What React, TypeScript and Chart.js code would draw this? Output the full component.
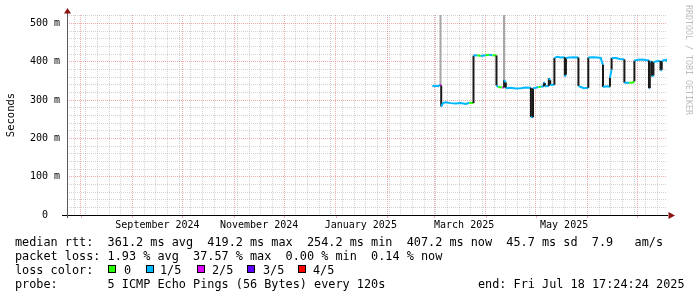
import React, { useEffect, useRef } from "react";
import { Chart, registerables } from "chart.js";

Chart.register(...registerables);

// ---------- data ----------
const START = "2024-07-23T17:24:24";
const END = "2025-07-18T17:24:24";

const medianTimes = [
  "2025-02-27T22:00", "2025-03-01T12:00", "2025-03-03T12:00", "2025-03-04T12:00", "2025-03-05T06:00",
  "2025-03-05T06:00", "2025-03-06T06:00", "2025-03-08T00:00", "2025-03-11T00:00", "2025-03-14T00:00",
  "2025-03-17T00:00", "2025-03-20T00:00", "2025-03-22T00:00", "2025-03-24T15:00", "2025-03-24T15:00",
  "2025-03-27T00:00", "2025-03-29T00:00", "2025-04-01T00:00", "2025-04-03T00:00", "2025-04-05T00:00",
  "2025-04-07T10:00", "2025-04-07T10:00", "2025-04-08T12:00", "2025-04-11T00:00", "2025-04-12T00:00",
  "2025-04-12T00:00", "2025-04-13T00:00", "2025-04-13T00:00", "2025-04-16T00:00", "2025-04-19T00:00",
  "2025-04-22T00:00", "2025-04-25T00:00", "2025-04-28T02:00", "2025-04-28T02:00", "2025-04-29T08:00",
  "2025-04-29T08:00", "2025-05-01T00:00", "2025-05-02T12:00", "2025-05-04T00:00", "2025-05-05T20:00",
  "2025-05-05T20:00", "2025-05-06T12:00", "2025-05-06T12:00", "2025-05-08T20:00", "2025-05-08T20:00",
  "2025-05-09T16:00", "2025-05-09T16:00", "2025-05-12T04:00", "2025-05-12T04:00", "2025-05-14T00:00",
  "2025-05-16T00:00", "2025-05-18T10:00", "2025-05-18T10:00", "2025-05-19T02:00", "2025-05-19T02:00",
  "2025-05-21T00:00", "2025-05-24T00:00", "2025-05-26T14:00", "2025-05-26T14:00", "2025-05-28T00:00",
  "2025-05-30T00:00", "2025-06-01T12:00", "2025-06-01T12:00", "2025-06-04T00:00", "2025-06-07T00:00",
  "2025-06-09T00:00", "2025-06-09T18:00", "2025-06-10T08:00", "2025-06-10T08:00", "2025-06-12T12:00",
  "2025-06-14T12:00", "2025-06-14T12:00", "2025-06-15T12:00", "2025-06-15T12:00", "2025-06-18T00:00",
  "2025-06-20T12:00", "2025-06-23T04:00", "2025-06-23T04:00", "2025-06-26T00:00", "2025-06-28T06:00",
  "2025-06-29T04:00", "2025-06-29T04:00", "2025-07-01T12:00", "2025-07-04T00:00", "2025-07-06T12:00",
  "2025-07-07T22:00", "2025-07-07T22:00", "2025-07-08T10:00", "2025-07-08T10:00", "2025-07-09T16:00",
  "2025-07-09T16:00", "2025-07-10T14:00", "2025-07-10T14:00", "2025-07-12T12:00", "2025-07-14T20:00",
  "2025-07-14T20:00", "2025-07-15T14:00", "2025-07-15T14:00", "2025-07-17T00:00", "2025-07-18T12:00",
  "2025-07-18T17:00",
];

// median rtt in milliseconds
const medianValues = [
  336, 337, 336, 340, 338,
  283, 292, 294, 292, 291,
  292, 290, 293, 292, 416,
  417, 415, 417, 418, 417,
  416, 338, 334, 333, 333,
  352, 346, 331, 332, 330,
  331, 333, 332, 256, 255,
  331, 332, 334, 335, 336,
  346, 344, 336, 337, 357,
  352, 339, 340, 410, 413,
  411, 412, 362, 366, 410,
  411, 412, 411, 337, 334,
  331, 332, 411, 412, 411,
  410, 398, 392, 334, 336,
  335, 358, 380, 410, 410,
  407, 406, 345, 345, 346,
  349, 403, 405, 406, 404,
  403, 331, 331, 400, 401,
  362, 364, 399, 401, 402,
  377, 379, 402, 404, 405,
  400,
];

// loss level index per point (0 = 0, 1 = 1/5, 2 = 2/5 ...)
const medianLoss = [
  1, 1, 1, 2, 2,
  1, 1, 1, 1, 1,
  1, 1, 0, 0, 1,
  0, 1, 0, 1, 0,
  0, 1, 0, 2, 1,
  1, 1, 1, 1, 1,
  1, 1, 1, 1, 1,
  1, 1, 0, 1, 1,
  1, 1, 1, 1, 1,
  1, 1, 1, 1, 1,
  1, 1, 1, 1, 1,
  1, 1, 1, 1, 1,
  1, 1, 1, 1, 1,
  1, 1, 1, 1, 1,
  1, 1, 1, 1, 1,
  1, 1, 1, 0, 0,
  1, 1, 1, 1, 1,
  1, 1, 1, 1, 1,
  1, 1, 1, 1, 1,
  1, 1, 1, 1, 1,
  1,
];

// smoke spikes (max ping)
const smokeTimes = ["2025-03-04T20:00", "2025-04-11T22:00", "2025-06-10T06:00"];
const smokeLow = [338, 350, 334];
const smokeHigh = [522, 522, 348];

const yTickValues = [0, 20, 40, 60, 80, 100, 120, 140, 160, 180, 200, 220, 240, 260, 280, 300, 320, 340, 360, 380, 400, 420, 440, 460, 480, 500, 520];
const yMax = 522;

const monthStarts = [
  "2024-08-01", "2024-09-01", "2024-10-01", "2024-11-01", "2024-12-01", "2025-01-01",
  "2025-02-01", "2025-03-01", "2025-04-01", "2025-05-01", "2025-06-01", "2025-07-01",
];
const firstSunday = "2024-07-28";
const monthLabels = ["September 2024", "November 2024", "January 2025", "March 2025", "May 2025"];
const monthLabelDates = ["2024-09-16", "2024-11-16", "2025-01-16", "2025-03-19", "2025-05-18"];

const lossColors = ["#26ff00", "#00b8ff", "#dd00ff", "#5e00ff", "#ff0000"];
const lossLabels = ["0", "1/5", "2/5", "3/5", "4/5"];

const statsLine1 = "median rtt:  361.2 ms avg  419.2 ms max  254.2 ms min  407.2 ms now  45.7 ms sd  7.9   am/s";
const statsLine2 = "packet loss: 1.93 % avg  37.57 % max  0.00 % min  0.14 % now";
const lossTitle = "loss color:";
const probeLine = "probe:       5 ICMP Echo Pings (56 Bytes) every 120s";
const endLine = "end: Fri Jul 18 17:24:24 2025";
const yTitle = "Seconds";
const watermark = "RRDTOOL / TOBI OETIKER";

// ---------- helpers / styles ----------
const ms = (s: string) => Date.parse(s.length === 10 ? s + "T00:00:00Z" : s.length === 16 ? s + ":00Z" : s + "Z");
const GRID = "rgba(150,150,150,0.42)";
const MGRID = "rgba(222,80,80,0.48)";
const MONO = "'DejaVu Sans Mono', monospace";
const ARROW = "#8a1414";

const lossBoxX = [108, 146, 197, 247, 298];
const lossTextX = [124, 160, 212, 263, 313];

function buildXGrid(): { v: number; major: boolean }[] {
  const majors = monthStarts.map(ms);
  const set = new Map<number, boolean>();
  majors.forEach((m) => set.set(m, true));
  const endMs = ms(END);
  for (let t = ms(firstSunday); t < endMs; t += 7 * 86400000) {
    if (!set.has(t)) set.set(t, false);
  }
  return Array.from(set.entries()).map(([v, major]) => ({ v, major })).sort((a, b) => a.v - b.v);
}

export default function App() {
  const ref = useRef<HTMLCanvasElement | null>(null);

  useEffect(() => {
    document.body.style.margin = "0";
    const canvas = ref.current;
    if (!canvas) return;

    const xGrid = buildXGrid();
    const majorSet = new Set(xGrid.filter((g) => g.major).map((g) => g.v));
    const tMs = medianTimes.map(ms);
    const medianPoints = tMs.map((x, i) => ({ x, y: medianValues[i] }));
    const smokePoints: { x: number; y: number | null }[] = [];
    smokeTimes.forEach((t, i) => {
      const x = ms(t);
      smokePoints.push({ x, y: smokeLow[i] }, { x, y: smokeHigh[i] }, { x: x + 1, y: null });
    });

    const decor = {
      id: "decor",
      beforeDraw(chart: any) {
        const c = chart.ctx;
        c.save();
        c.fillStyle = "#ffffff";
        c.fillRect(0, 0, chart.width, chart.height);
        c.restore();
      },
      afterDraw(chart: any) {
        const c: CanvasRenderingContext2D = chart.ctx;
        const a = chart.chartArea;
        const xs = chart.scales.x;
        c.save();
        // major ticks below axis
        c.strokeStyle = MGRID;
        c.lineWidth = 1;
        monthStarts.forEach((d) => {
          const px = Math.round(xs.getPixelForValue(ms(d))) + 0.5;
          c.beginPath();
          c.moveTo(px, a.bottom);
          c.lineTo(px, a.bottom + 3);
          c.stroke();
        });
        // axes
        c.strokeStyle = "#000";
        c.beginPath();
        c.moveTo(a.left - 5, a.bottom + 0.5);
        c.lineTo(a.right + 1, a.bottom + 0.5);
        c.stroke();
        c.strokeStyle = "#5a5a5a";
        c.beginPath();
        c.moveTo(a.left + 0.5, a.bottom + 3);
        c.lineTo(a.left + 0.5, a.top - 3);
        c.stroke();
        // arrows
        c.fillStyle = ARROW;
        c.beginPath();
        c.moveTo(a.left + 0.5, a.top - 7);
        c.lineTo(a.left + 4, a.top - 1.5);
        c.lineTo(a.left - 3, a.top - 1.5);
        c.closePath();
        c.fill();
        c.beginPath();
        c.moveTo(a.right + 8, a.bottom + 0.5);
        c.lineTo(a.right + 1.5, a.bottom - 3);
        c.lineTo(a.right + 1.5, a.bottom + 4);
        c.closePath();
        c.fill();
        // month labels
        c.fillStyle = "#000";
        c.font = `10px ${MONO}`;
        c.textAlign = "center";
        c.textBaseline = "middle";
        monthLabels.forEach((l, i) => {
          c.fillText(l, xs.getPixelForValue(ms(monthLabelDates[i])), a.bottom + 10.5);
        });
        // y title
        c.save();
        c.translate(11, (a.top + a.bottom) / 2);
        c.rotate(-Math.PI / 2);
        c.font = `10.5px ${MONO}`;
        c.fillText(yTitle, 0, 0);
        c.restore();
        // watermark
        c.save();
        c.translate(688, 5);
        c.rotate(Math.PI / 2);
        c.font = `8.3px ${MONO}`;
        c.fillStyle = "#bdbdbd";
        c.textAlign = "left";
        c.fillText(watermark, 0, 0);
        c.restore();
        // legend
        c.font = `11.83px ${MONO}`;
        c.textAlign = "left";
        c.textBaseline = "alphabetic";
        c.fillStyle = "#000";
        c.fillText(statsLine1, 15, 245.5);
        c.fillText(statsLine2, 15, 259.5);
        c.fillText(lossTitle, 15, 273.5);
        lossLabels.forEach((l, i) => {
          c.fillStyle = lossColors[i];
          c.fillRect(lossBoxX[i], 265, 8, 8);
          c.strokeStyle = "#000";
          c.strokeRect(lossBoxX[i] + 0.5, 265.5, 7, 7);
          c.fillStyle = "#000";
          c.fillText(l, lossTextX[i], 273.5);
        });
        c.fillText(probeLine, 15, 287.5);
        c.fillText(endLine, 478, 287.5);
        c.restore();
      },
    };

    const chart = new Chart(canvas, {
      type: "line",
      data: {
        datasets: [
          {
            label: "median",
            data: medianPoints as any,
            borderColor: lossColors[1],
            borderWidth: 2,
            pointRadius: 0,
            tension: 0,
            segment: {
              borderColor: (ctx: any) =>
                tMs[ctx.p0DataIndex] === tMs[ctx.p1DataIndex]
                  ? "#1a1a1a"
                  : lossColors[medianLoss[ctx.p0DataIndex]],
            },
          } as any,
          {
            label: "smoke",
            data: smokePoints as any,
            borderColor: "#a6a6a6",
            borderWidth: 2,
            pointRadius: 0,
            spanGaps: false,
          } as any,
        ],
      },
      options: {
        animation: false,
        responsive: false,
        maintainAspectRatio: false,
        devicePixelRatio: 1,
        layout: { padding: { left: 0, right: 30, top: 15, bottom: 0 } },
        plugins: { legend: { display: false }, tooltip: { enabled: false }, title: { display: false } },
        scales: {
          x: {
            type: "linear",
            min: ms(START),
            max: ms(END),
            offset: false,
            afterBuildTicks: (s: any) => {
              s.ticks = xGrid.map((g) => ({ value: g.v }));
            },
            afterFit: (s: any) => {
              s.height = 82;
            },
            ticks: { display: false, autoSkip: false },
            grid: {
              color: (c: any) => (majorSet.has(c.tick?.value) ? MGRID : GRID),
              lineWidth: 1,
              drawTicks: false,
              offset: false,
            },
            border: { display: false, dash: [1, 1] },
          } as any,
          y: {
            type: "linear",
            min: 0,
            max: yMax,
            afterBuildTicks: (s: any) => {
              s.ticks = yTickValues.map((v) => ({ value: v }));
            },
            afterFit: (s: any) => {
              s.width = 67;
            },
            ticks: {
              autoSkip: false,
              padding: 7,
              color: "#000",
              font: { family: "DejaVu Sans Mono", size: 10 },
              callback: (v: any) => (v % 100 === 0 ? (v === 0 ? "0  " : `${v} m`) : ""),
            },
            grid: {
              color: (c: any) => (c.tick?.value % 100 === 0 ? MGRID : GRID),
              lineWidth: 1,
              drawTicks: false,
            },
            border: { display: false, dash: [1, 1] },
          } as any,
        },
      },
      plugins: [decor],
    });

    return () => chart.destroy();
  }, []);

  return (
    <div style={{ width: 697, height: 297 }}>
      <canvas ref={ref} width={697} height={297} style={{ display: "block", width: 697, height: 297 }} />
    </div>
  );
}
